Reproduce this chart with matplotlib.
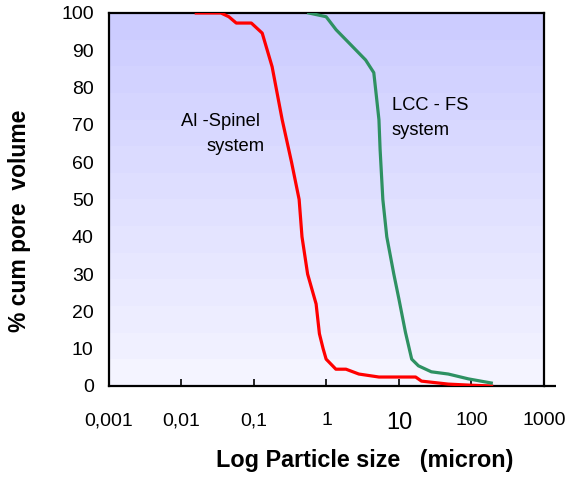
import numpy as np
import matplotlib
matplotlib.use('Agg')
import matplotlib.pyplot as plt
from matplotlib.colors import to_rgb

plt.rcParams['font.family'] = ['Liberation Sans', 'DejaVu Sans']

# cumulative pore volume (%) vs particle size (micron)
spinel_size = [0.016, 0.035, 0.045, 0.057, 0.092, 0.13, 0.178, 0.245, 0.33, 0.42,
               0.46, 0.55, 0.72, 0.80, 0.90, 0.99, 1.35, 1.86, 2.8, 5.3,
               17, 20.5, 48, 100, 190]
spinel_vol = [100, 100, 99, 97.3, 97.3, 94.6, 85.6, 71.4, 60, 50,
              40, 30, 22, 14, 10, 7.2, 4.5, 4.5, 3.2, 2.4,
              2.4, 1.3, 0.5, 0.2, 0]

lcc_size = [0.57, 0.99, 1.36, 2.04, 3.47, 4.5, 4.95, 5.3, 5.5, 6.0,
            6.8, 8.5, 10, 12.3, 15, 18.6, 28, 48, 91, 188]
lcc_vol = [100, 99, 95.5, 92, 87.4, 84, 76.7, 71.4, 63.4, 50,
           40, 30, 23.3, 14.4, 7.2, 5.4, 3.8, 3.2, 1.9, 0.8]

x_ticks = [0.001, 0.01, 0.1, 1, 10, 100, 1000]
x_labels = ['0,001', '0,01', '0,1', '1', '10', '100', '1000']
y_ticks = [0, 10, 20, 30, 40, 50, 60, 70, 80, 90, 100]

fig = plt.figure(figsize=(5.7, 4.79), dpi=100)
ax = fig.add_axes([0.1912, 0.1942, 0.763, 0.7787])

# banded vertical gradient behind the plot
top = np.array(to_rgb('#ccccff'))
bottom = np.array(to_rgb('#f4f4ff'))
bands = 14
t = np.repeat(np.linspace(0, 1, bands), 10)
grad = (top[None, :] * (1 - t[:, None]) + bottom[None, :] * t[:, None])[:, None, :]
ax.imshow(grad, extent=[0, 1, 0, 1], transform=ax.transAxes, aspect='auto',
          zorder=0, interpolation='nearest')

ax.plot(spinel_size, spinel_vol, color='#ff0000', lw=2.3, zorder=3)
ax.plot(lcc_size, lcc_vol, color='#2e9162', lw=2.3, zorder=3)

ax.set_xscale('log')
ax.set_xlim(0.001, 1000)
ax.set_ylim(0, 100)

ax.set_xticks(x_ticks)
ax.set_xticklabels(x_labels)
ax.minorticks_off()
ax.tick_params(axis='x', direction='in', length=5, width=1.2, pad=19, labelsize=14)
for lab in ax.get_xticklabels():
    if lab.get_text() == '10':
        lab.set_fontsize(17)
ax.set_yticks(y_ticks)
ax.tick_params(axis='y', length=0, pad=11, labelsize=14)

for side in ['left', 'right', 'top', 'bottom']:
    ax.spines[side].set_linewidth(1.6)
    ax.spines[side].set_color('black')
# bottom axis line runs a little past the right frame
ax.plot([1.0, 1.027], [0, 0], color='black', lw=1.6, transform=ax.transAxes,
        clip_on=False, solid_capstyle='butt')

ax.text(0.00984, 71.0, 'Al -Spinel', fontsize=13.2, ha='left', va='center')
ax.text(0.0225, 64.3, 'system', fontsize=13.2, ha='left', va='center')
ax.text(8.0, 75.1, 'LCC - FS', fontsize=13.2, ha='left', va='center')
ax.text(8.0, 68.6, 'system', fontsize=13.2, ha='left', va='center')

fig.text(0.035, 0.539, '% cum pore  volume', rotation=90, fontsize=16.5,
         fontweight='bold', ha='center', va='center')
fig.text(0.640, 0.038, 'Log Particle size   (micron)', fontsize=16.8,
         fontweight='bold', ha='center', va='center')

fig.savefig('out.png', dpi=100)
